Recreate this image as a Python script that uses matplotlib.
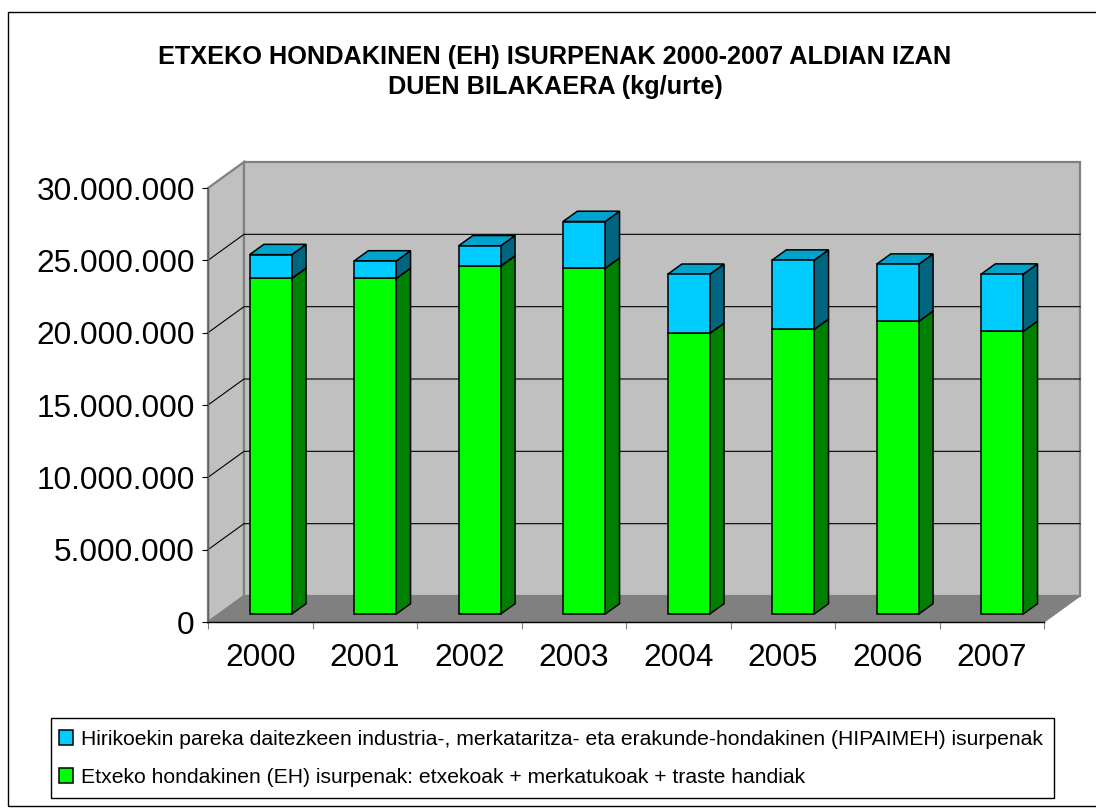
import matplotlib
matplotlib.use("Agg")
import matplotlib.pyplot as plt
from matplotlib.patches import Patch, Polygon, Rectangle

anos = ["2000", "2001", "2002", "2003", "2004", "2005", "2006", "2007"]
etxeko = [23200000, 23200000, 24050000, 23900000, 19400000, 19680000, 20230000, 19540000]
hirikoak = [1640000, 1200000, 1400000, 3230000, 4080000, 4780000, 3950000, 3950000]
y_ticks = [0, 5000000, 10000000, 15000000, 20000000, 25000000, 30000000]

izenburua = "ETXEKO HONDAKINEN (EH) ISURPENAK 2000-2007 ALDIAN IZAN\nDUEN BILAKAERA (kg/urte)"
legenda_hiri = "Hirikoekin pareka daitezkeen industria-, merkataritza- eta erakunde-hondakinen (HIPAIMEH) isurpenak"
legenda_etxe = "Etxeko hondakinen (EH) isurpenak: etxekoak + merkatukoak + traste handiak"

plt.rcParams["font.family"] = ["Liberation Sans", "DejaVu Sans"]

W, H = 1096, 810
fig = plt.figure(figsize=(W / 100, H / 100), dpi=100, facecolor="white")

# Axes = the front plane of the fake 3D box
x0, x1, y_top, y_bot = 208, 1044, 188, 622
ax = fig.add_axes([x0 / W, 1 - y_bot / H, (x1 - x0) / W, (y_bot - y_top) / H])
ax.patch.set_visible(False)
ax.set_xlim(0, 8)
ax.set_ylim(0, 30000000)

# Pixel to data factors
px_x = 8 / (x1 - x0)
px_y = 30000000 / (y_bot - y_top)

# Depth of the box and of the bars
dx = 36 * px_x
dy = 26 * px_y
bar_dx = 14.3 * px_x
bar_dy = 10.3 * px_y
bar_w = 42.2 * px_x
bar_shift_x = 10.4 * px_x
bar_shift_y = 8 * px_y


def poli(puntuak, fc, ec="black", lw=1.1, z=2):
    ax.add_patch(Polygon(puntuak, closed=True, fc=fc, ec=ec, lw=lw, zorder=z,
                         clip_on=False, joinstyle="miter"))


# Walls and floor
poli([(0, 0), (dx, dy), (dx, 30000000 + dy), (0, 30000000)], "#C0C0C0", "#808080", 1.6, 1)
poli([(dx, dy), (8 + dx, dy), (8 + dx, 30000000 + dy), (dx, 30000000 + dy)], "#C0C0C0", "#808080", 1.6, 1)
poli([(0, 0), (8, 0), (8 + dx, dy), (dx, dy)], "#808080", "#808080", 1.0, 1.5)

# Gridlines on the back and side walls
for v in y_ticks[1:-1]:
    ax.plot([0, dx, 8 + dx], [v, v + dy, v + dy], color="black", lw=0.8, zorder=1.6, clip_on=False)


def segmentua(x, behe, goi, c_front, c_side, c_top, z):
    r = x + bar_w
    poli([(r, behe), (r + bar_dx, behe + bar_dy), (r + bar_dx, goi + bar_dy), (r, goi)], c_side, z=z)
    poli([(x, goi), (r, goi), (r + bar_dx, goi + bar_dy), (x + bar_dx, goi + bar_dy)], c_top, z=z)
    poli([(x, behe), (r, behe), (r, goi), (x, goi)], c_front, z=z + 0.1)


for i in range(len(anos)):
    x = i + 0.5 - bar_w / 2 + bar_shift_x
    oina = bar_shift_y
    z = 3 + i
    segmentua(x, oina, oina + etxeko[i], "#00FF00", "#008000", "#00CC00", z)
    segmentua(x, oina + etxeko[i], oina + etxeko[i] + hirikoak[i], "#00CCFF", "#006680", "#00A3CC", z + 0.3)

# Axes ticks and labels
ax.set_yticks(y_ticks)
ax.set_yticklabels([f"{v:,}".replace(",", ".") for v in y_ticks], fontsize=22.8)
ax.set_xticks(range(9))
ax.set_xticklabels([])
ax.set_xticks([i + 0.5 for i in range(8)], minor=True)
ax.set_xticklabels(anos, minor=True, fontsize=22.8)
ax.tick_params(axis="y", length=4.5, width=0.8, color="black", pad=5, labelcolor="black")
ax.tick_params(axis="x", which="major", length=5, width=0.8, color="#808080")
ax.tick_params(axis="x", which="minor", length=0, pad=15)
for s in ["top", "right"]:
    ax.spines[s].set_visible(False)
ax.spines["left"].set_color("#606060")
ax.spines["left"].set_linewidth(1)
ax.spines["bottom"].set_color("black")
ax.spines["bottom"].set_linewidth(1)
ax.spines["left"].set_zorder(2)
ax.spines["bottom"].set_zorder(2)

# Outer frame of the chart area, runs off to the right
fig.add_artist(Rectangle((7.5 / W, 1 - 806 / H), 1.2, (806 - 12) / H, transform=fig.transFigure,
                         fc="none", ec="black", lw=1.0, clip_on=True))

fig.text(555 / W, 1 - 72 / H, izenburua, ha="center", va="center", fontsize=18.2,
         fontweight="bold", linespacing=1.35)

# Legend box drawn apart, its height does not follow the text
fig.add_artist(Rectangle((51 / W, 1 - 798 / H), 1003 / W, 80 / H, transform=fig.transFigure,
                         fc="white", ec="black", lw=1.0))
esku = [Patch(fc="#00CCFF", ec="black", lw=1.1, label=legenda_hiri),
        Patch(fc="#00FF00", ec="black", lw=1.1, label=legenda_etxe)]
leg = fig.legend(handles=esku, loc="lower left", bbox_to_anchor=(51 / W, 1 - 795 / H),
                 bbox_transform=fig.transFigure, borderaxespad=0, fontsize=15.26, frameon=False,
                 handlelength=0.66, handleheight=0.66, handletextpad=0.38, labelspacing=0.9,
                 borderpad=0.38)

fig.savefig("out.png", dpi=100)
